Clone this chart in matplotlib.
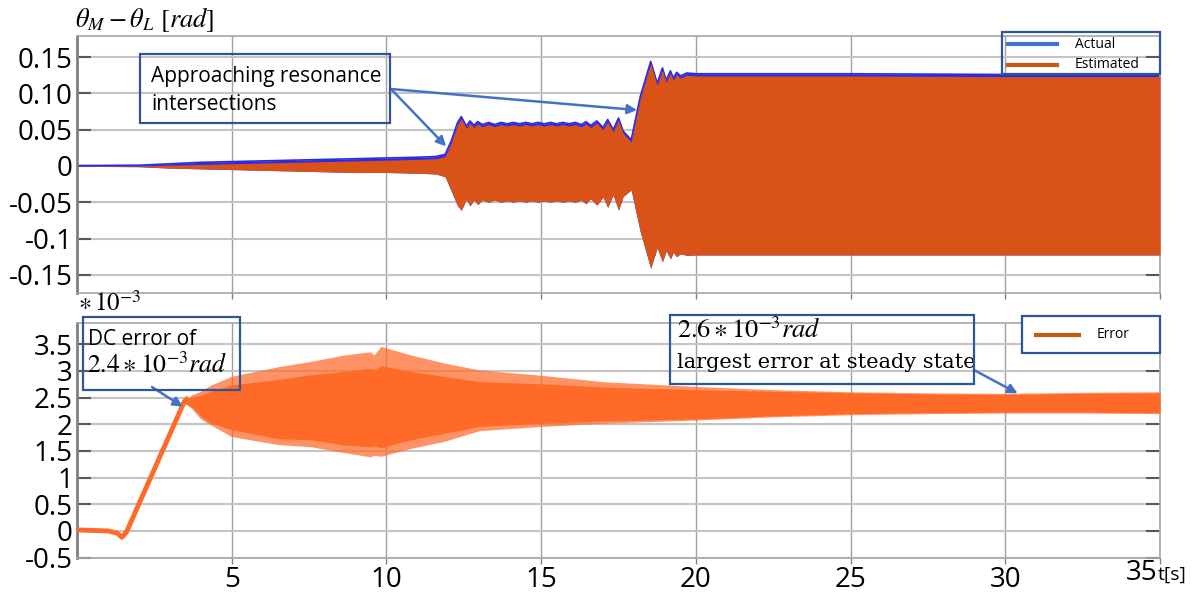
import matplotlib
matplotlib.use("Agg")
import matplotlib.pyplot as plt
from matplotlib.patches import Rectangle
from matplotlib.lines import Line2D

plt.rcParams['font.family'] = ['Open Sans', 'DejaVu Sans']
plt.rcParams['mathtext.fontset'] = 'stix'

# ---- Top panel: envelope of theta_M - theta_L (rad) ----
t_top = [0, 2, 3, 4, 5, 6, 7, 8, 9, 10, 11, 11.6, 11.9, 12.1, 12.3, 12.42,
         12.58, 12.7, 12.83, 12.95, 13.1, 13.3, 13.5, 13.7, 13.9, 14.1, 14.3,
         14.5, 14.7, 14.9, 15.1, 15.3, 15.5, 15.7, 15.9, 16.1, 16.3, 16.45,
         16.6, 16.8, 17.0, 17.15, 17.33, 17.5, 17.65, 17.91, 18.2, 18.54,
         18.75, 18.92, 19.04, 19.18, 19.27, 19.38, 19.5, 19.7, 20, 25, 30, 35]
actual_upper = [0.0005, 0.001, 0.003, 0.005, 0.006, 0.007, 0.008, 0.009, 0.010,
                0.011, 0.012, 0.013, 0.016, 0.035, 0.060, 0.068,
                0.055, 0.062, 0.056, 0.061, 0.057, 0.060, 0.057, 0.060, 0.058, 0.060, 0.058,
                0.060, 0.058, 0.060, 0.058, 0.060, 0.058, 0.060, 0.058, 0.060, 0.057, 0.061,
                0.056, 0.062, 0.053, 0.064, 0.050, 0.066, 0.048, 0.036, 0.095, 0.144,
                0.114, 0.135, 0.118, 0.131, 0.121, 0.129, 0.124, 0.128, 0.127, 0.127, 0.126, 0.126]
estimated_lower = [-0.0005, -0.001, -0.003, -0.004, -0.005, -0.006, -0.007, -0.008, -0.009,
                   -0.009, -0.010, -0.011, -0.015, -0.035, -0.055, -0.061,
                   -0.046, -0.055, -0.047, -0.053, -0.047, -0.050, -0.047, -0.050, -0.048, -0.050, -0.048,
                   -0.050, -0.048, -0.050, -0.048, -0.050, -0.048, -0.050, -0.048, -0.050, -0.047, -0.052,
                   -0.045, -0.054, -0.043, -0.057, -0.040, -0.061, -0.042, -0.033, -0.090, -0.141,
                   -0.113, -0.132, -0.117, -0.128, -0.119, -0.125, -0.121, -0.123, -0.1226, -0.1226, -0.1226, -0.1226]
estimated_upper = [0.0, 0.0, 0.001, 0.002, 0.003, 0.004, 0.005, 0.006, 0.007,
                   0.008, 0.009, 0.010, 0.013, 0.032, 0.057, 0.065,
                   0.052, 0.059, 0.053, 0.058, 0.054, 0.057, 0.054, 0.057, 0.055, 0.057, 0.055,
                   0.057, 0.055, 0.057, 0.055, 0.057, 0.055, 0.057, 0.055, 0.057, 0.054, 0.058,
                   0.053, 0.059, 0.050, 0.061, 0.047, 0.063, 0.045, 0.033, 0.092, 0.141,
                   0.111, 0.132, 0.115, 0.128, 0.118, 0.126, 0.121, 0.125, 0.124, 0.124, 0.123, 0.123]

top_yticks = [0.15, 0.10, 0.05, 0, -0.05, -0.1, -0.15]
top_ylabels = ['0.15', '0.10', '0.05', '0', '-0.05', '-0.1', '-0.15']

# ---- Bottom panel: estimation error (x 1e-3 rad) ----
t_err = [0, 0.5, 1.0, 1.3, 1.45, 1.6, 3.47, 3.6]
err_line = [0.02, 0.01, 0.0, -0.04, -0.12, -0.02, 2.43, 2.5]

t_env = [3.47, 3.7, 4.0, 4.34, 5.0, 6.5, 7.56, 8.63, 9.49, 9.6, 9.82, 10.8,
         11.86, 13.0, 15.0, 17.0, 20.0, 22.5, 25.0, 27.5, 30.0, 32.5, 35.0]
err_outer_hi = [2.43, 2.55, 2.62, 2.74, 2.90, 3.08, 3.18, 3.30, 3.36, 3.30, 3.46, 3.30,
                3.15, 3.02, 2.92, 2.80, 2.71, 2.65, 2.61, 2.59, 2.58, 2.60, 2.61]
err_outer_lo = [2.40, 2.30, 2.10, 1.98, 1.77, 1.62, 1.58, 1.47, 1.39, 1.42, 1.40, 1.55,
                1.68, 1.88, 1.96, 2.02, 2.08, 2.14, 2.18, 2.20, 2.21, 2.21, 2.20]
err_core_hi = [2.43, 2.50, 2.55, 2.62, 2.74, 2.84, 2.93, 2.99, 3.05, 3.02, 3.10, 2.99,
               2.90, 2.80, 2.76, 2.70, 2.65, 2.62, 2.59, 2.57, 2.56, 2.58, 2.59]
err_core_lo = [2.40, 2.33, 2.15, 2.02, 1.90, 1.73, 1.71, 1.61, 1.58, 1.60, 1.56, 1.71,
               1.83, 1.96, 2.02, 2.06, 2.10, 2.16, 2.20, 2.22, 2.23, 2.23, 2.22]

bot_yticks = [3.5, 3, 2.5, 2, 1.5, 1, 0.5, 0, -0.5]
bot_ylabels = ['3.5', '3', '2.5', '2', '1.5', '1', '0.5', '0', '-0.5']
xticks = [5, 10, 15, 20, 25, 30, 35]
xlabels = ['5', '10', '15', '20', '25', '30', '']

BLUE_DATA = '#2B2BE6'
ORANGE = '#D95319'
ERR = '#FF6A29'
BOX = '#2F5597'
ARROW = '#4472C4'
LEG_BLUE = '#4472C4'
LEG_ORANGE = '#C55A11'

W, H = 1204, 594
fig = plt.figure(figsize=(W / 100, H / 100), dpi=100)


def fx(x):
    return x / W


def fy(y):
    return 1 - y / H


ax1 = fig.add_axes([fx(77), fy(293), (1160 - 77) / W, (293 - 36) / H])
ax2 = fig.add_axes([fx(77), fy(558), (1160 - 77) / W, (558 - 323) / H])


def style(ax):
    ax.set_xlim(0, 35)
    ax.grid(axis='y', color='#C4C4C4', lw=1.5, zorder=0)
    ax.grid(axis='x', color='#A0A0A0', lw=1.0, zorder=0)
    ax.set_axisbelow(True)
    for s in ['top', 'right', 'bottom']:
        ax.spines[s].set_color('#A6A6A6')
        ax.spines[s].set_linewidth(1.2)
    ax.spines['left'].set_color('#808080')
    ax.spines['left'].set_linewidth(2)
    ax.tick_params(axis='y', direction='in', length=10, width=1.5, color='#595959',
                   right=True, labelsize=20, pad=3)
    ax.tick_params(axis='x', direction='out', length=4, width=1, color='#808080',
                   labelsize=20, pad=2)
    ax.set_xticks(xticks)


# Top panel
style(ax1)
ax1.set_ylim(-0.175, 0.179)
ax1.set_yticks(top_yticks)
ax1.set_yticklabels(top_ylabels)
ax1.set_xticklabels([])
ax1.plot(t_top, actual_upper, color=BLUE_DATA, lw=1.2, zorder=2)
ax1.fill_between(t_top, estimated_lower, actual_upper, color=BLUE_DATA, lw=0, zorder=2)
ax1.fill_between(t_top, estimated_lower, estimated_upper, color=ORANGE, lw=0, zorder=3)

# Bottom panel
style(ax2)
ax2.set_ylim(-0.507, 3.9)
ax2.set_yticks(bot_yticks)
ax2.set_yticklabels(bot_ylabels)
ax2.set_xticklabels(xlabels)
ax2.plot(t_err, err_line, color=ERR, lw=3.5, zorder=3, solid_capstyle='butt')
ax2.fill_between(t_env, err_outer_lo, err_outer_hi, color=ERR, alpha=0.72, lw=0, zorder=2)
ax2.fill_between(t_env, err_core_lo, err_core_hi, color=ERR, lw=0, zorder=3)

# Axis text
fig.text(fx(75), fy(27), r'$\theta_M-\theta_L\ [rad]$', fontsize=19, va='baseline')
fig.text(fx(78), fy(311), r'$\ast\,10^{-3}$', fontsize=18, va='baseline')
fig.text(fx(1157), fy(580), '35', fontsize=20, ha='right', va='baseline')
fig.text(fx(1158), fy(580), 't[s]', fontsize=14, ha='left', va='baseline')

# Legends
fig.add_artist(Rectangle((fx(1002), fy(74)), (1160 - 1002) / W, (74 - 32) / H,
                         transform=fig.transFigure, fill=False, ec=BOX, lw=1.6, zorder=10))
fig.add_artist(Line2D([fx(1008), fx(1057)], [fy(44), fy(44)], color=LEG_BLUE, lw=3))
fig.add_artist(Line2D([fx(1008), fx(1057)], [fy(65), fy(65)], color=LEG_ORANGE, lw=3))
fig.text(fx(1075), fy(44), 'Actual', fontsize=10, va='center')
fig.text(fx(1075), fy(65), 'Estimated', fontsize=10, va='center')

fig.add_artist(Rectangle((fx(1022), fy(353)), (1160 - 1022) / W, (353 - 316) / H,
                         transform=fig.transFigure, facecolor='white', ec=BOX, lw=1.6, zorder=10))
fig.add_artist(Line2D([fx(1036), fx(1079)], [fy(335), fy(335)], color=LEG_ORANGE, lw=3, zorder=11))
fig.text(fx(1097), fy(335), 'Error', fontsize=10, va='center', zorder=11)

# Annotation boxes
for (x0, y0, x1, y1) in [(140, 54, 390, 123), (83, 317, 240, 390), (670, 315, 974, 384)]:
    fig.add_artist(Rectangle((fx(x0), fy(y1)), (x1 - x0) / W, (y1 - y0) / H,
                             transform=fig.transFigure, fill=False, ec=BOX, lw=1.6, zorder=10))

fig.text(fx(151), fy(82), 'Approaching resonance', fontsize=15, va='baseline')
fig.text(fx(151), fy(110), 'intersections', fontsize=15, va='baseline')

fig.text(fx(88), fy(345), 'DC error of', fontsize=15, va='baseline')
fig.text(fx(87), fy(373), r'$2.4 \ast 10^{-3}rad$', fontsize=18.5, va='baseline')

fig.text(fx(677), fy(338), r'$2.6 \ast 10^{-3}rad$', fontsize=19, va='baseline')
fig.text(fx(677), fy(368), 'largest error at steady state', fontsize=15,
         family='DejaVu Serif', va='baseline')

arrow = dict(arrowstyle='-|>', color=ARROW, lw=1.8, mutation_scale=14, shrinkA=0, shrinkB=0)
ax1.annotate('', xy=(11.93, 0.027), xycoords='data',
             xytext=(fx(391), fy(89)), textcoords='figure fraction', arrowprops=arrow)
ax1.annotate('', xy=(18.1, 0.077), xycoords='data',
             xytext=(fx(391), fy(89)), textcoords='figure fraction', arrowprops=arrow)
ax2.annotate('', xy=(3.42, 2.33), xycoords='data',
             xytext=(fx(152), fy(387)), textcoords='figure fraction', arrowprops=arrow)
ax2.annotate('', xy=(30.4, 2.58), xycoords='data',
             xytext=(fx(974), fy(370)), textcoords='figure fraction', arrowprops=arrow)

fig.savefig('out.png', dpi=100)
